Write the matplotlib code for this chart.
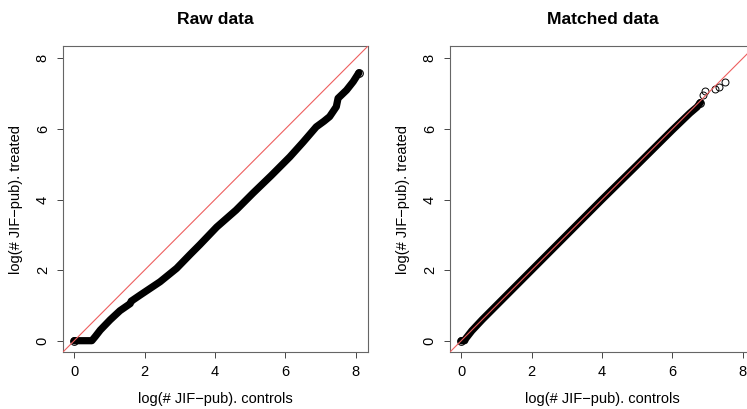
import matplotlib.pyplot as plt

plt.rcParams['font.family'] = ['Liberation Sans', 'DejaVu Sans']

# Raw data: quantiles (controls vs treated)
raw_x = [0, 0.25, 0.5, 0.6, 0.74, 1.02, 1.3, 1.59, 1.62, 1.87, 2.44, 2.91,
         3.3, 3.57, 4.05, 4.6, 5.08, 5.6, 6.13, 6.5, 6.88, 7.1, 7.26, 7.45,
         7.50, 7.74, 7.93, 8.09]
raw_y = [0, 0, 0, 0.12, 0.30, 0.59, 0.85, 1.05, 1.12, 1.29, 1.67, 2.05,
         2.45, 2.72, 3.22, 3.70, 4.18, 4.68, 5.21, 5.62, 6.06, 6.22, 6.35, 6.63,
         6.87, 7.10, 7.34, 7.59]

# Matched data: dense body plus a few sparse upper-tail points
matched_x = [0, 0.1, 0.12, 0.3, 0.6, 1.0, 2.0, 3.0, 4.0, 5.0, 6.0, 6.5, 6.7, 6.8]
matched_y = [0, 0, 0.05, 0.28, 0.6, 1.0, 2.0, 3.0, 4.0, 4.98, 5.97, 6.45, 6.62, 6.75]
tail_x = [6.86, 6.94, 7.22, 7.34, 7.51]
tail_y = [6.96, 7.08, 7.13, 7.20, 7.34]

ticks = [0, 2, 4, 6, 8]
lims = (-0.32, 8.35)
titles = ['Raw data', 'Matched data']
xlabel = 'log(# JIF\u2212pub). controls'
ylabel = 'log(# JIF\u2212pub). treated'

fig = plt.figure(figsize=(7.47, 4.09), dpi=100)
ax1 = fig.add_axes([0.0843, 0.1394, 0.4083, 0.748])
ax2 = fig.add_axes([0.6024, 0.1394, 0.4083, 0.748])

panels = [(raw_x, raw_y, [], []),
          (matched_x, matched_y, tail_x, tail_y)]

for ax, (xs, ys, tx, ty), title in zip([ax1, ax2], panels, titles):
    # thick band of overlapping quantile points, open circles at the ends
    ax.plot(xs, ys, color='black', lw=5.2, solid_capstyle='round',
            solid_joinstyle='round', marker='o', ms=5.5, mfc='none',
            mec='black', mew=0.8, markevery=[0, len(xs) - 1], zorder=2)
    if tx:
        ax.plot(tx, ty, ls='none', marker='o', ms=5, mfc='none',
                mec='black', mew=0.7, zorder=2)
    ax.axline((0, 0), slope=1, color='#ee5f5f', lw=0.8, zorder=3)

    ax.set_xlim(lims)
    ax.set_ylim(lims)
    ax.set_xticks(ticks)
    ax.set_yticks(ticks)
    for s in ax.spines.values():
        s.set_color('#666666')
        s.set_linewidth(0.8)
    ax.tick_params(length=4.5, width=0.7, color='#444444', labelsize=10.5, pad=5)
    for lab in ax.get_yticklabels():
        lab.set_rotation(90)
        lab.set_va('center')
    ax.set_xlabel(xlabel, fontsize=10.5, labelpad=9)
    ax.set_ylabel(ylabel, fontsize=10.5, labelpad=9)
    ax.set_title(title, fontsize=12.6, fontweight='bold', pad=16)

fig.savefig('out.png', dpi=100)
